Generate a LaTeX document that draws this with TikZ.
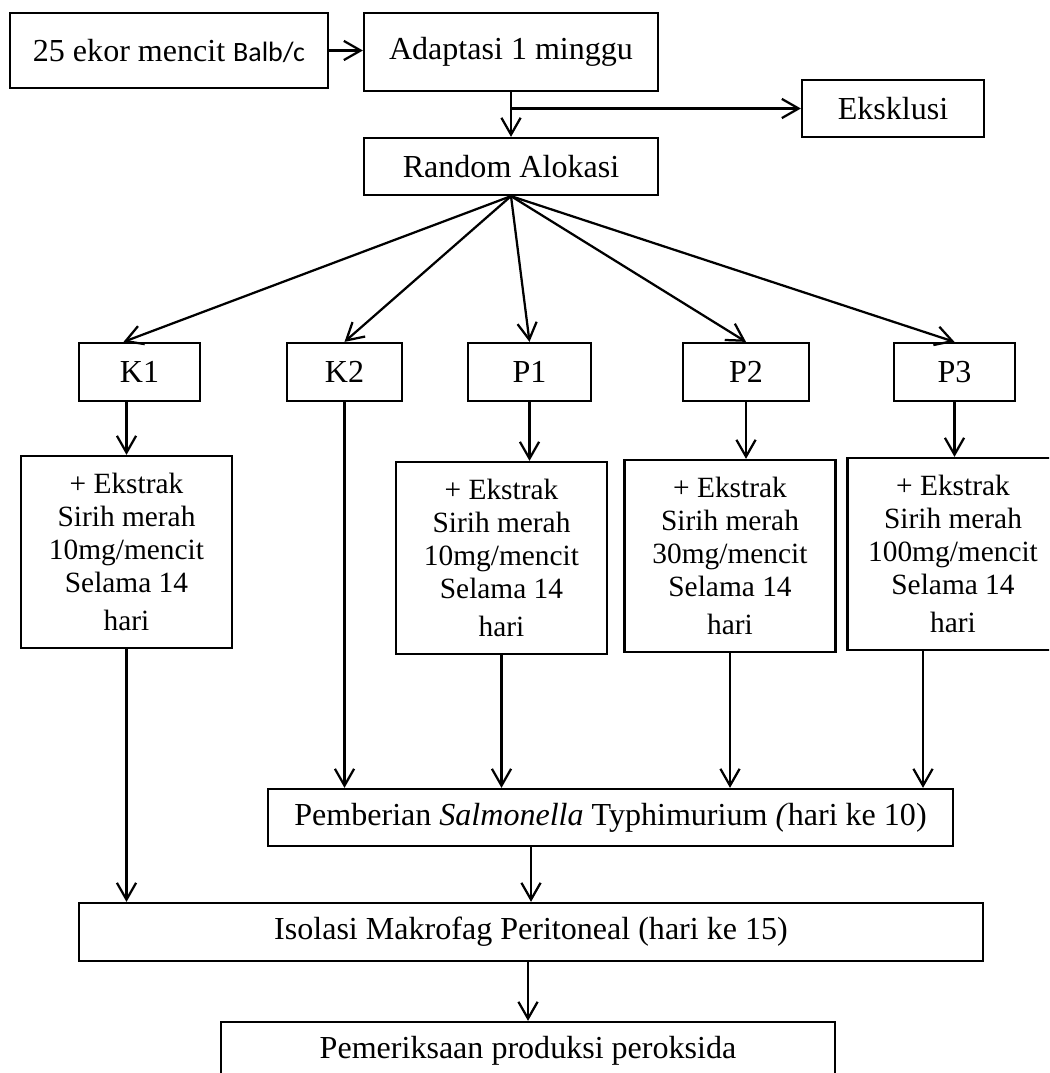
\documentclass[tikz,border=0pt]{standalone}
\usepackage{fontspec}
\setmainfont{Liberation Serif}
\newfontfamily\calibri{Carlito}
\usepackage{tikz}
\usetikzlibrary{arrows.meta}

\begin{document}
\begin{tikzpicture}[font=\fontsize{22.8}{24}\selectfont, >={Straight Barb[length=0.42cm,width=0.48cm]}, line width=1.6pt,
  box/.style={draw=black, inner sep=0pt, minimum height=1.45cm},
  dosebox/.style={draw=black, align=center, inner sep=0pt, minimum width=5.275cm, minimum height=4.8cm, font=\fontsize{20.9}{23.5}\selectfont}]
  \useasboundingbox (0,0) rectangle (26.225,-26.825);
  \clip (0,0) rectangle (26.225,-26.825);
  % top row
  \node[box, minimum width=7.95cm, minimum height=1.875cm] (mice) at (4.225,-1.2625) {25 ekor mencit {\calibri\fontsize{19.9}{22}\selectfont Balb/c}};
  \node[box, minimum width=7.35cm, minimum height=1.95cm] (adapt) at (12.775,-1.3) {Adaptasi 1 minggu};
  \node[box, minimum width=4.55cm, minimum height=1.425cm] (eks) at (22.325,-2.7125) {Eksklusi};
  \node[box, minimum width=7.35cm, minimum height=1.425cm] (rand) at (12.775,-4.1625) {Random Alokasi};
  \draw[->] (mice.east) -- (mice.east -| adapt.west);
  \draw[->] (adapt.south) -- (rand.north);
  \draw[->] (adapt.south |- eks.west) -- (eks.west);
  % groups
  \node[box, minimum width=3.025cm] (k1) at (3.4875,-9.3) {K1};
  \node[box, minimum width=2.875cm] (k2) at (8.6125,-9.3) {K2};
  \node[box, minimum width=3.075cm] (p1) at (13.2375,-9.3) {P1};
  \node[box, minimum width=3.15cm] (p2) at (18.65,-9.3) {P2};
  \node[box, minimum width=3.025cm] (p3) at (23.8625,-9.3) {P3};
  \draw[->] (rand.south) -- ([xshift=-0.4cm]k1.north);
  \draw[->] (rand.south) -- (k2.north);
  \draw[->] (rand.south) -- (p1.north);
  \draw[->] (rand.south) -- (p2.north);
  \draw[->] (rand.south) -- (p3.north);
  % extract doses
  \node[dosebox] (k1dose) at (3.1625,-13.8) {+ Ekstrak\\Sirih merah\\10mg/mencit\\Selama 14\\[0.125cm]hari};
  \node[dosebox] (p1dose) at (12.5375,-13.95) {+ Ekstrak\\Sirih merah\\10mg/mencit\\Selama 14\\[0.125cm]hari};
  \node[dosebox] (p2dose) at (18.25,-13.9) {+ Ekstrak\\Sirih merah\\30mg/mencit\\Selama 14\\[0.125cm]hari};
  \node[dosebox] (p3dose) at (23.825,-13.85) {+ Ekstrak\\Sirih merah\\100mg/mencit\\Selama 14\\[0.125cm]hari};
  \draw[->] (k1.south -| k1dose.north) -- (k1dose.north);
  \draw[->] (p1.south) -- (p1.south |- p1dose.north);
  \draw[->] (p2.south) -- (p2.south |- p2dose.north);
  \draw[->] (p3.south) -- (p3.south |- p3dose.north);
  % infection and isolation
  \node[box, minimum width=17.125cm, minimum height=1.425cm] (infeksi) at (15.2625,-20.4375) {Pemberian \textit{Salmonella} Typhimurium \textit{(}hari ke 10)};
  \node[box, minimum width=22.6cm] (isolasi) at (13.275,-23.3) {Isolasi Makrofag Peritoneal (hari ke 15)};
  \node[box, minimum width=15.35cm] (periksa) at (13.2,-26.275) {Pemeriksaan produksi peroksida};
  \draw[->] (k2.south) -- (k2.south |- infeksi.north);
  \draw[->] (p1dose.south) -- (p1dose.south |- infeksi.north);
  \draw[->] (p2dose.south) -- (p2dose.south |- infeksi.north);
  \draw[->] ([xshift=-0.75cm]p3dose.south) -- ([xshift=-0.75cm]p3dose.south |- infeksi.north);
  \draw[->] (k1dose.south) -- (k1dose.south |- isolasi.north);
  \draw[->] (isolasi.north |- infeksi.south) -- (isolasi.north);
  \draw[->] (periksa.north |- isolasi.south) -- (periksa.north);
\end{tikzpicture}
\end{document}
